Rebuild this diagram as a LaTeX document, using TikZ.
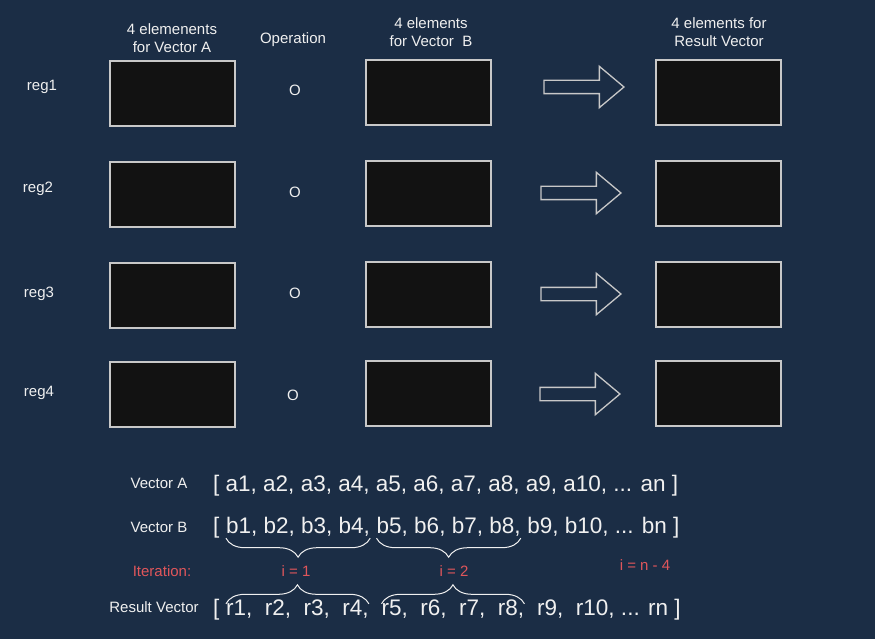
\documentclass[tikz,border=0pt]{standalone}
\usepackage{fontspec}
\setmainfont{Liberation Sans}
\usetikzlibrary{shapes.arrows, positioning, decorations.pathreplacing}
\definecolor{bgNavy}{HTML}{1B2D45}
\definecolor{boxFill}{HTML}{121212}
\definecolor{boxLine}{HTML}{C8C8C8}
\definecolor{txtWhite}{HTML}{F0F0F0}
\definecolor{iterRed}{HTML}{E0565B}

\begin{document}
\begin{tikzpicture}[x=1pt, y=-1pt,
      every node/.style={text=txtWhite, font=\fontsize{15}{18}\selectfont},
      regbox/.style={draw=boxLine, line width=1.5pt, fill=boxFill,
                     minimum width=125pt, minimum height=65pt, inner sep=0pt},
      fatarrow/.style={single arrow, draw=boxLine, line width=1.3pt,
                       minimum height=80pt, inner sep=6pt,
                       single arrow head extend=14pt, single arrow tip angle=80},
      vec/.style={inner sep=0pt, text height=16pt, text depth=5pt,
                  font=\fontsize{22.5}{27}\selectfont},
      itr/.style={text=iterRed},
      brc/.style={draw=txtWhite, line width=1pt, decorate,
                  decoration={brace, amplitude=19pt}}]
    \fill[bgNavy] (0,0) rectangle (875,639);

    % column headers
    \node[align=center] (hdrA) at (172,38) {4 elemenents\\for Vector A};
    \node (hdrOp) at (293,40) {Operation};
    \node[align=center] (hdrB) at (431,32) {4 elements\\for Vector\ \ B};
    \node[align=center] (hdrR) at (719,32) {4 elements for\\Result Vector};

    % one row per register
    \foreach \n/\y/\ly/\oy/\ay/\ox/\ax/\lx in {1/92.5/87/90/87/295/580/42,
        2/193.5/189/192/193/295/577/38, 3/294.5/294/293/294/295/577/39,
        4/393.5/393/395/394/293/576/39} {
      \node (reg\n) at (\lx,\ly) {reg\n};
      \node[regbox] (boxA\n) at (172.5,\y+1) {};
      \node (op\n) at (\ox,\oy) {O};
      \node[regbox] (boxB\n) at (428.5,\y) {};
      \node[fatarrow] (arr\n) at (\ax,\ay) {};
      \node[regbox] (boxR\n) at (718.5,\y) {};
    }

    % the vectors
    \node (lblA) at (159,483) {Vector A};
    \node[vec, anchor=base west] (vecA) at (213,491)
      {[ a1, a2, a3, a4, a5, a6, a7, a8, a9, a10, ... an ]};

    \node (lblB) at (159,527) {Vector B};
    \node[vec, anchor=base west] (bopen) at (213,533) {[};
    \node[vec, right=6.3pt of bopen] (bgrp1) {b1, b2, b3, b4,};
    \node[vec, right=6.3pt of bgrp1] (bgrp2) {b5, b6, b7, b8,};
    \node[vec, right=6.3pt of bgrp2] (brest) {b9, b10, ... bn ]};

    \node[itr] (iterLbl) at (162,571) {Iteration:};
    \node[itr] (iter1) at (296,571) {i = 1};
    \node[itr] (iter2) at (454,571) {i = 2};
    \node[itr] (iterN) at (645,565) {i = n - 4};

    \node (lblR) at (154,607) {Result Vector};
    \node[vec, anchor=base west] (ropen) at (213,615) {[};
    \node[vec, right=6.3pt of ropen] (rgrp1) {r1,\ \ r2,\ \ r3,\ \ r4,};
    \node[vec, right=12.6pt of rgrp1] (rgrp2) {r5,\ \ r6,\ \ r7,\ \ r8,};
    \node[vec, right=12.6pt of rgrp2] (rrest) {r9,\ \ r10, ... rn ]};

    % braces
    \draw[brc] (bgrp1.south east) -- (bgrp1.south west);
    \draw[brc] (bgrp2.south east) -- (bgrp2.south west);
    \draw[brc] ([yshift=-5pt]rgrp1.north west) -- ([yshift=-5pt]rgrp1.north east);
    \draw[brc] ([yshift=-5pt]rgrp2.north west) -- ([yshift=-5pt]rgrp2.north east);
\end{tikzpicture}
\end{document}
